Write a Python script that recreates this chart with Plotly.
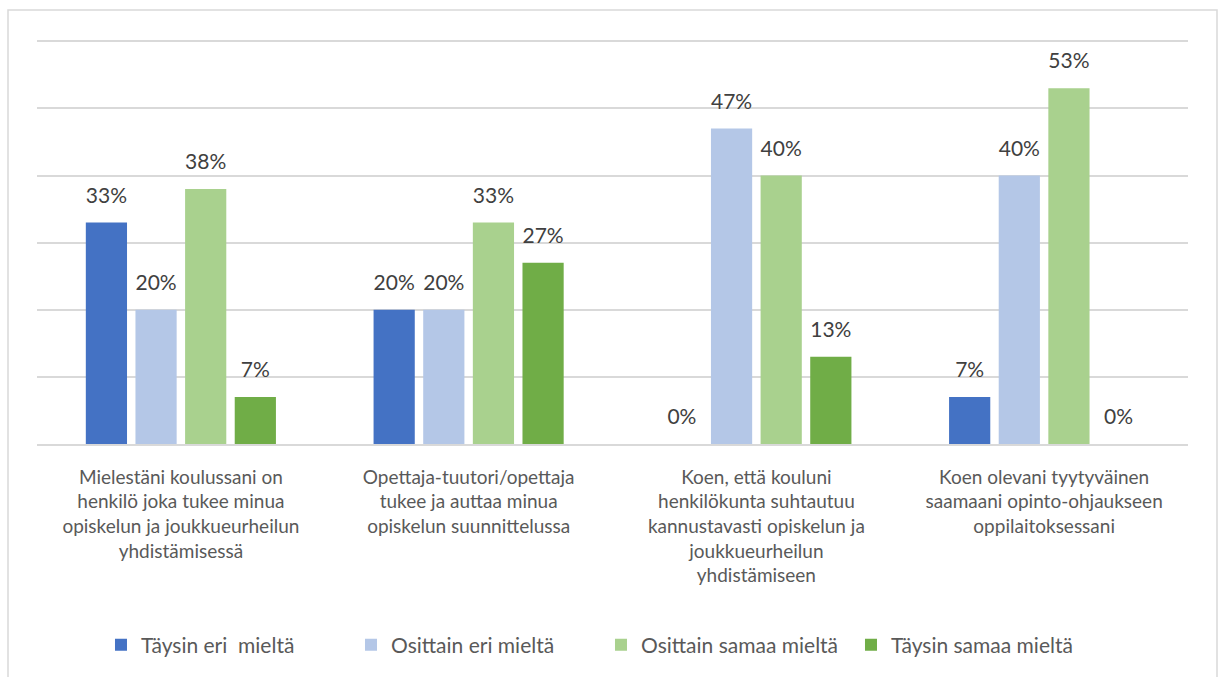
import plotly.graph_objects as go

categories = [
    "Mielestäni koulussani on<br>henkilö joka tukee minua<br>opiskelun ja joukkueurheilun<br>yhdistämisessä",
    "Opettaja-tuutori/opettaja<br>tukee ja auttaa minua<br>opiskelun suunnittelussa",
    "Koen, että kouluni<br>henkilökunta suhtautuu<br>kannustavasti opiskelun ja<br>joukkueurheilun<br>yhdistämiseen",
    "Koen olevani tyytyväinen<br>saamaani opinto-ohjaukseen<br>oppilaitoksessani",
]
series_names = ["Täysin eri  mieltä", "Osittain eri mieltä", "Osittain samaa mieltä", "Täysin samaa mieltä"]
taysin_eri = [33, 20, 0, 7]
osittain_eri = [20, 20, 47, 40]
osittain_samaa = [38, 33, 40, 53]
taysin_samaa = [7, 27, 13, 0]
colors = ["#4472C4", "#B4C7E7", "#A9D18E", "#70AD47"]

FONT = "Lato, Calibri, Carlito, sans-serif"
all_series = [taysin_eri, osittain_eri, osittain_samaa, taysin_samaa]

fig = go.Figure()
for i, (name, vals, col) in enumerate(zip(series_names, all_series, colors)):
    fig.add_trace(go.Bar(
        x=categories, y=vals, name=name, marker_color=col, marker_line_width=0,
        offsetgroup=str(i), hoverinfo="skip",
    ))
for i, vals in enumerate(all_series):
    fig.add_trace(go.Scatter(
        x=categories, y=vals, mode="markers+text", showlegend=False,
        offsetgroup=str(i), hoverinfo="skip", cliponaxis=False,
        marker=dict(size=22, opacity=0),
        text=[f"{v}%" for v in vals], textposition="top center",
        textfont=dict(family=FONT, size=21, color="#404040"),
    ))

fig.update_layout(
    width=1219, height=677,
    margin=dict(l=37, r=31, t=40, b=233),
    paper_bgcolor="white", plot_bgcolor="white",
    barmode="group", bargap=0.31, bargroupgap=0.17,
    scattermode="group", scattergap=0.31,
    font=dict(family=FONT, size=19, color="#595959"),
    showlegend=True, hovermode=False,
    legend=dict(orientation="h", x=0.49, xanchor="center", y=-0.4975, yanchor="middle",
                font=dict(family=FONT, size=21, color="#595959"),
                itemwidth=30, traceorder="normal", itemclick=False,
                entrywidth=205, entrywidthmode="pixels"),
    xaxis=dict(showline=True, linecolor="#D9D9D9", linewidth=1.5, ticks="",
               tickfont=dict(family=FONT, size=19, color="#595959"),
               ticklabelstandoff=15),
    yaxis=dict(range=[0, 60.2], dtick=10, showticklabels=False, showgrid=True,
               gridcolor="#D9D9D9", gridwidth=1.5, zeroline=False, showline=False),
)
fig.add_shape(type="rect", xref="paper", yref="paper",
              x0=-0.0252, x1=1.0252, y0=-0.6, y1=1.0743,
              line=dict(color="#D9D9D9", width=1.5), fillcolor="rgba(0,0,0,0)", layer="below")

fig.write_html("out.html", config={"displayModeBar": False},
               post_script="document.body.style.margin='0';document.body.style.overflow='hidden';")
